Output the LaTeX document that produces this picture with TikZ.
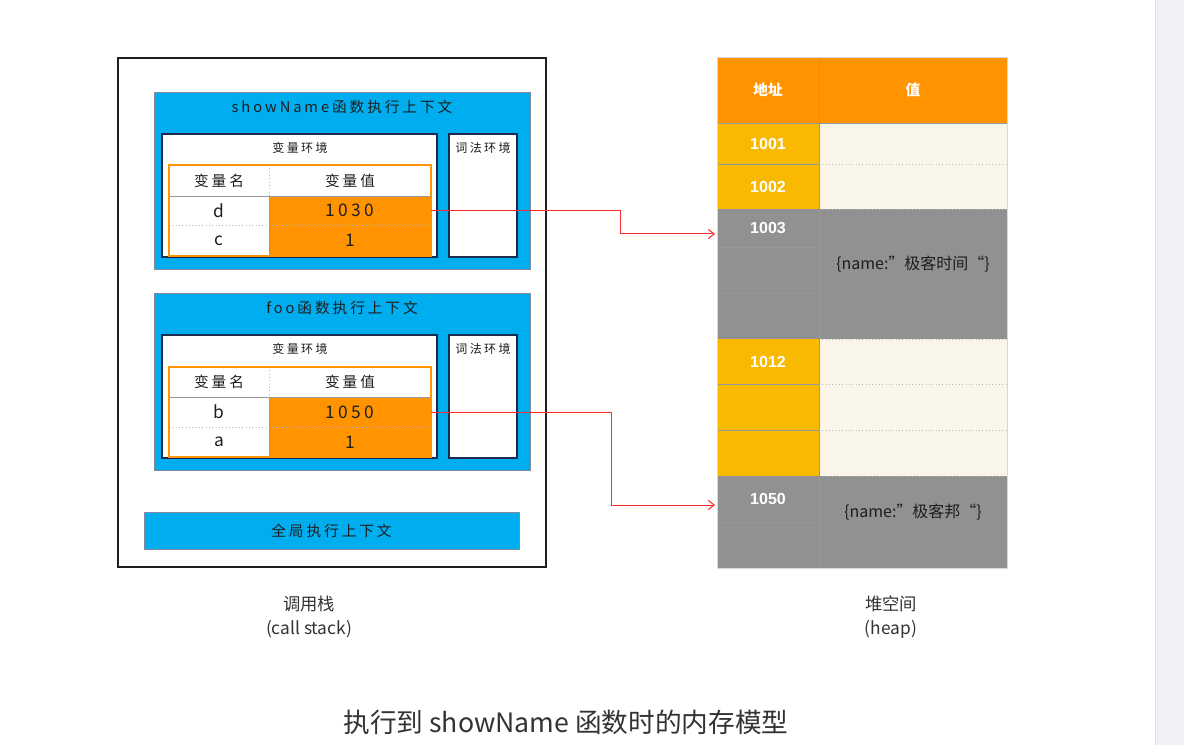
\documentclass[tikz,border=0pt]{standalone}
\usepackage{fontspec}
\setmainfont{Noto Sans CJK SC}
\newfontfamily\handfont[LetterSpace=20]{Noto Sans CJK SC}
\newfontfamily\numfont{Liberation Sans}
\usetikzlibrary{arrows.meta}

\definecolor{stackblue}{HTML}{00AEEF}
\definecolor{boxnavy}{HTML}{1C2B4F}
\definecolor{cellorange}{HTML}{FF9400}
\definecolor{addryellow}{HTML}{F9B900}
\definecolor{heapcream}{HTML}{F9F6E9}
\definecolor{heapgray}{HTML}{919191}
\definecolor{rulegray}{HTML}{7E7E7E}
\definecolor{dotgray}{HTML}{B8B8B8}
\definecolor{linkred}{HTML}{FF2A2A}
\definecolor{inkdark}{HTML}{1E1E1E}
\definecolor{captionink}{HTML}{333333}
\definecolor{sidebar}{HTML}{F1F2F6}

% rectangular cell given by its corners (in px units): name, x1, y1, x2, y2, style, text
\newcommand\cellbox[7]{%
  \pgfmathsetmacro\cbw{(#4-#2)*0.75}%
  \pgfmathsetmacro\cbh{(#5-#3)*0.75}%
  \node[inner sep=0pt, outer sep=0pt, minimum width=\cbw pt, minimum height=\cbh pt, #6]
    (#1) at ({(#2+#4)/2},{(#3+#5)/2}) {#7};}

\tikzset{
  ctxbox/.style={fill=stackblue, draw=boxnavy!55, line width=0.6pt},
  envbox/.style={fill=white, draw=boxnavy, line width=0.8pt},
  titletext/.style={font=\handfont\fontsize{11}{13}\selectfont, text=inkdark},
  envtext/.style={font=\handfont\fontsize{9}{11}\selectfont, text=inkdark},
  headtext/.style={font=\handfont\fontsize{11}{13}\selectfont, text=inkdark},
  celltext/.style={font=\handfont\fontsize{13}{15}\selectfont, text=inkdark},
  namecell/.style={fill=white, celltext},
  valcell/.style={fill=cellorange, celltext},
  tablerule/.style={draw=rulegray!80, line width=0.5pt},
  tabledot/.style={draw=dotgray, line width=0.5pt, dotted},
  tableframe/.style={draw=cellorange, line width=1.8pt},
  addrtext/.style={font=\numfont\bfseries\fontsize{12}{14}\selectfont, text=white},
  addryel/.style={fill=addryellow, addrtext},
  addrgray/.style={fill=heapgray, addrtext},
  valcream/.style={fill=heapcream},
  valgray/.style={fill=heapgray},
  heaphead/.style={fill=cellorange, text=white, font=\bfseries\fontsize{11}{13}\selectfont},
  objtext/.style={font=\fontsize{12}{14}\selectfont, text=inkdark},
  labeltext/.style={font=\fontsize{13}{15}\selectfont, text=captionink},
  link/.style={draw=linkred, line width=0.75pt, -{Straight Barb[length=4.5pt,width=7pt]}, shorten >=1.5pt},
}

\begin{document}
\begin{tikzpicture}[x=0.75pt,y=-0.75pt]
\useasboundingbox (0,0) rectangle (1184,745);
\fill[white] (0,0) rectangle (1184,745);

% side bar of the page
\fill[sidebar] (1155,0) rectangle (1184,745);
\draw[black!12, line width=0.6pt] (1155,0) -- (1155,745);

% ---------------- call stack ----------------
\cellbox{callstack}{118}{58}{546}{567}{draw=inkdark, line width=1.3pt}{}

% showName execution context
\cellbox{snctx}{154}{92}{530}{269}{ctxbox}{}
\node[titletext] (sntitle) at (342,107) {showName函数执行上下文};
\cellbox{snvar}{162}{134}{437}{257}{envbox}{}
\node[envtext] (snvart) at (300,148) {变量环境};
\cellbox{snlex}{449}{134}{517}{257}{envbox}{}
\node[envtext] (snlext) at (483,148) {词法环境};
\cellbox{snhn}{169}{165}{269}{196}{fill=white, headtext}{变量名}
\cellbox{snhv}{269}{165}{431}{196}{fill=white, headtext}{变量值}
\cellbox{snkd}{169}{196}{269}{225}{namecell}{d}
\cellbox{snvd}{269}{196}{431}{225}{valcell}{1030}
\cellbox{snkc}{169}{225}{269}{256}{namecell}{c}
\cellbox{snvc}{269}{225}{431}{256}{valcell}{1}
\draw[tablerule] (snhn.south west) -- (snhv.south east);
\draw[tabledot] (snhn.north east) -- (snhn.south east);
\draw[tablerule] (snkd.north east) -- (snkc.south east);
\draw[tabledot] (snkd.south west) -- (snvd.south east);
\draw[tableframe] (snhn.north west) rectangle (snvc.south east);

% foo execution context
\cellbox{fooctx}{154}{293}{530}{470}{ctxbox}{}
\node[titletext] (footitle) at (342,308) {foo函数执行上下文};
\cellbox{foovar}{162}{335}{437}{458}{envbox}{}
\node[envtext] (foovart) at (300,349) {变量环境};
\cellbox{foolex}{449}{335}{517}{458}{envbox}{}
\node[envtext] (foolext) at (483,349) {词法环境};
\cellbox{foohn}{169}{367}{269}{397}{fill=white, headtext}{变量名}
\cellbox{foohv}{269}{367}{431}{397}{fill=white, headtext}{变量值}
\cellbox{fookb}{169}{397}{269}{427}{namecell}{b}
\cellbox{foovb}{269}{397}{431}{427}{valcell}{1050}
\cellbox{fooka}{169}{427}{269}{457}{namecell}{a}
\cellbox{foova}{269}{427}{431}{457}{valcell}{1}
\draw[tablerule] (foohn.south west) -- (foohv.south east);
\draw[tabledot] (foohn.north east) -- (foohn.south east);
\draw[tablerule] (fookb.north east) -- (fooka.south east);
\draw[tabledot] (fookb.south west) -- (foovb.south east);
\draw[tableframe] (foohn.north west) rectangle (foova.south east);

% global execution context
\cellbox{glob}{144}{512}{519}{549}{ctxbox, titletext}{全局执行上下文}

% ---------------- heap ----------------
\cellbox{hha}{717}{57}{819}{123}{heaphead}{地址}
\cellbox{hhv}{819}{57}{1007}{123}{heaphead}{值}

\cellbox{a1001}{717}{123}{819}{164}{addryel}{1001}
\cellbox{v1001}{819}{123}{1007}{164}{valcream}{}
\cellbox{a1002}{717}{164}{819}{209}{addryel}{1002}
\cellbox{v1002}{819}{164}{1007}{209}{valcream}{}

\cellbox{a1003}{717}{209}{819}{247}{addrgray}{1003}
\cellbox{a1003b}{717}{247}{819}{293}{addrgray}{}
\cellbox{a1003c}{717}{293}{819}{339}{addrgray}{}
\cellbox{v1003}{819}{209}{1007}{339}{valgray}{}
\node[objtext] (obj1) at (913,264) {\{name:"极客时间“\}};

\cellbox{a1012}{717}{339}{819}{384}{addryel}{1012}
\cellbox{a1012b}{717}{384}{819}{430}{addryel}{}
\cellbox{a1012c}{717}{430}{819}{476}{addryel}{}
\cellbox{v1012}{819}{339}{1007}{384}{valcream}{}
\cellbox{v1012b}{819}{384}{1007}{430}{valcream}{}
\cellbox{v1012c}{819}{430}{1007}{476}{valcream}{}

\cellbox{a1050}{717}{476}{819}{522}{addrgray}{1050}
\cellbox{a1050b}{717}{522}{819}{568}{addrgray}{}
\cellbox{v1050}{819}{476}{1007}{568}{valgray}{}
\node[objtext] (obj2) at (913,512) {\{name:"极客邦“\}};

% heap rules
\draw[tablerule] (hha.south west) -- (hhv.south east);
\foreach \c in {a1001,a1003,a1003b,a1012,a1012b,a1050}
  \draw[tablerule] (\c.south west) -- (\c.south east);
\foreach \c in {v1001,v1002,v1003,v1012,v1012b,v1012c}
  \draw[tabledot] (\c.south west) -- (\c.south east);
\draw[tablerule] (hha.north east) -- (a1050b.south east);
\draw[black!15, line width=0.5pt] (hha.north west) rectangle (v1050.south east);

% ---------------- references into the heap ----------------
\coordinate (bendA) at (620,0);
\coordinate (bendB) at (611,0);
\draw[link] (snvd.east) -- (snvd.east -| bendA) |- ([yshift=-4.5pt]a1003.west);
\draw[link] (foovb.east) -- (foovb.east -| bendB) |- ([yshift=-4.5pt]a1050.west);

% ---------------- captions ----------------
\node[labeltext] (cslabel) at (309,604) {调用栈};
\node[labeltext] (cssub) at (309,629) {(call stack)};
\node[labeltext] (hplabel) at (891,604) {堆空间};
\node[labeltext] (hpsub) at (891,629) {(heap)};
\node[font=\fontsize{20}{24}\selectfont, text=captionink] (caption) at (566,722) {执行到 showName 函数时的内存模型};
\end{tikzpicture}
\end{document}
